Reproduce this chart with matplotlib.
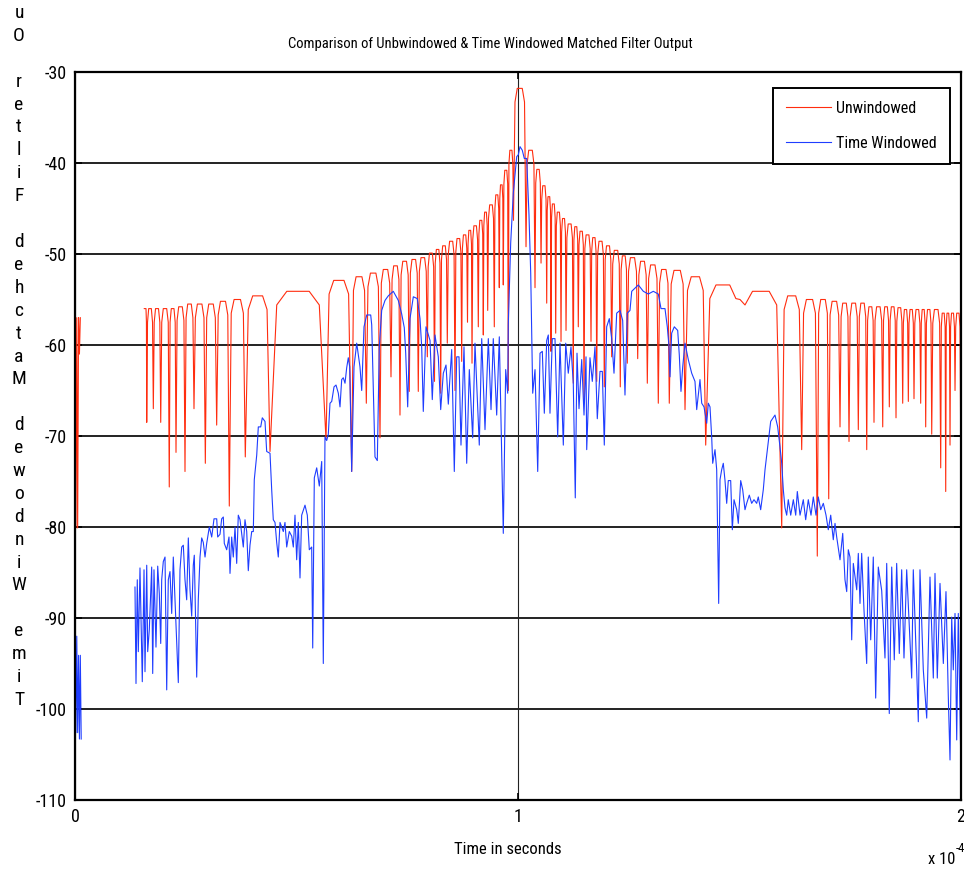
import numpy as np
import matplotlib
matplotlib.use("Agg")
import matplotlib.pyplot as plt

plt.rcParams['font.family'] = ['Roboto Condensed', 'Liberation Sans', 'DejaVu Sans']
plt.rcParams['axes.unicode_minus'] = False

# time axis is in units of 1e-4 s
T_SCALE = 1e-4

# --- Unwindowed matched filter output (dB) ---
# short burst right at t = 0
red_lead_t = [0.000, 0.002, 0.004, 0.006, 0.008, 0.010, 0.012]
red_lead_db = [-56.8, -80.1, -57.0, -80.1, -57.0, -61.0, -57.0]

red_start_t = 0.1564
red_end_t = 2.004
# nulls between sidelobes
red_dip_t = [0.1619, 0.1768, 0.1935, 0.2128, 0.2280, 0.2483, 0.2686, 0.2942, 0.3198, 0.3483,
             0.3844, 0.4402, 0.5666, 0.6246, 0.6576, 0.6885, 0.7133, 0.7336, 0.7546, 0.7749,
             0.7953, 0.8115, 0.8255, 0.8404, 0.8578, 0.8729, 0.8860, 0.8962, 0.9104, 0.9217,
             0.9316, 0.9465, 0.9578, 0.9668, 0.9781, 0.9898,
             1.0181, 1.0384, 1.0520, 1.0648, 1.0745, 1.0851, 1.0971, 1.1084, 1.1248, 1.1361,
             1.1490, 1.1648, 1.1777, 1.1948, 1.2115, 1.2309, 1.2467, 1.2702, 1.2919, 1.3167,
             1.3415, 1.3770, 1.4237, 1.5011, 1.5953, 1.6404, 1.6756, 1.7014, 1.7269, 1.7472,
             1.7682, 1.7872, 1.8036, 1.8233, 1.8382, 1.8533, 1.8684, 1.8811, 1.8939, 1.9090,
             1.9203, 1.9339, 1.9542, 1.9655, 1.9752, 1.9865, 1.9993]
red_dip_db = [-68.5, -67.0, -68.5, -75.6, -71.8, -73.9, -67.0, -73.0, -68.8, -77.7,
              -72.3, -71.7, -70.4, -73.9, -66.4, -70.2, -63.5, -67.7, -65.1, -65.1,
              -61.3, -64.0, -65.3, -59.8, -65.0, -61.8, -57.5, -62.0, -58.0, -58.9,
              -56.2, -58.0, -53.7, -53.4, -65.0, -46.3,
              -49.2, -53.7, -51.0, -55.4, -60.7, -58.7, -59.6, -58.4, -64.2, -58.0,
              -66.4, -59.6, -64.0, -64.6, -61.3, -64.6, -62.0, -61.5, -64.2, -66.4,
              -66.4, -67.1, -71.0, -55.0, -80.1, -71.5, -83.2, -76.9, -69.0, -70.6,
              -69.3, -71.5, -68.5, -69.0, -66.8, -68.0, -66.4, -66.2, -65.9, -66.4,
              -69.0, -69.8, -73.5, -76.1, -71.0, -65.0, -70.1]
# sidelobe peak levels, one per lobe (before the first null, then after each null)
red_top_db = [-56.0,
              -56.0, -56.0, -56.0, -56.0, -55.8, -55.5, -55.5, -55.5, -55.2, -55.0,
              -54.6, -54.1, -52.9, -52.5, -52.1, -51.7, -51.3, -50.8, -50.6, -50.4,
              -49.9, -49.5, -49.1, -48.6, -48.3, -47.9, -47.4, -46.9, -46.3, -45.4,
              -44.6, -43.5, -42.4, -40.8, -38.6, -31.8,
              -38.6, -40.7, -42.5, -43.7, -44.5, -45.4, -46.1, -46.7, -47.0, -47.5,
              -47.9, -48.2, -48.6, -49.1, -49.6, -50.2, -50.4, -50.8, -51.2, -51.7,
              -51.8, -52.5, -53.4, -54.1, -54.6, -55.0, -55.0, -55.2, -55.4, -55.4,
              -55.4, -55.8, -55.8, -55.8, -55.8, -55.9, -56.1, -56.1, -56.1, -56.1,
              -56.1, -56.1, -56.5, -56.5, -56.5, -56.5, -56.5]

# --- Time windowed matched filter output (dB) ---
blue_lead_t = [0.000, 0.002, 0.004, 0.006, 0.008, 0.010, 0.012, 0.014]
blue_lead_db = [-92.0, -102.6, -92.0, -102.6, -94.1, -103.3, -94.1, -103.3]

blue_t = [0.1354, 0.1377, 0.1406, 0.1429, 0.1467, 0.1519, 0.1558, 0.1580, 0.1619, 0.1641,
          0.1677, 0.1731, 0.1754, 0.1783, 0.1828, 0.1867, 0.1903, 0.1935, 0.1957, 0.1993,
          0.2032, 0.2070, 0.2106, 0.2144, 0.2183, 0.2219, 0.2280, 0.2332, 0.2370, 0.2409,
          0.2445, 0.2483, 0.2521, 0.2558, 0.2596, 0.2634, 0.2670, 0.2693, 0.2747, 0.2783,
          0.2822, 0.2860, 0.2896, 0.2935, 0.2973, 0.3032, 0.3086, 0.3138, 0.3199, 0.3221,
          0.3273, 0.3311, 0.3348, 0.3370, 0.3424, 0.3476, 0.3499, 0.3537, 0.3573, 0.3612,
          0.3650, 0.3686, 0.3725, 0.3763, 0.3799, 0.3837, 0.3876, 0.3912, 0.3950, 0.3989,
          0.4025, 0.4047, 0.4102, 0.4138, 0.4192, 0.4228, 0.4289, 0.4327, 0.4402, 0.4440,
          0.4476, 0.4515, 0.4553, 0.4589, 0.4628, 0.4702, 0.4740, 0.4779, 0.4837, 0.4892,
          0.4928, 0.4966, 0.5004, 0.5041, 0.5079, 0.5117, 0.5192, 0.5244, 0.5289, 0.5343,
          0.5366, 0.5402, 0.5456, 0.5515, 0.5569, 0.5605, 0.5643, 0.5682, 0.5718, 0.5756,
          0.5795, 0.5847, 0.5892, 0.5944, 0.5982, 0.6020, 0.6056, 0.6095, 0.6133, 0.6169,
          0.6201, 0.6246, 0.6298, 0.6359, 0.6433, 0.6472, 0.6524, 0.6585, 0.6675, 0.6698,
          0.6772, 0.6824, 0.6869, 0.6923, 0.6998, 0.7072, 0.7185, 0.7298, 0.7375, 0.7433,
          0.7465, 0.7510, 0.7562, 0.7637, 0.7727, 0.7788, 0.7826, 0.7862, 0.7923, 0.8014,
          0.8065, 0.8126, 0.8201, 0.8255, 0.8314, 0.8375, 0.8427, 0.8503, 0.8562, 0.8616,
          0.8668, 0.8713, 0.8781, 0.8842, 0.8901, 0.8977, 0.9029, 0.9126, 0.9181, 0.9255,
          0.9330, 0.9391, 0.9442, 0.9519, 0.9578, 0.9668, 0.9722, 0.9767, 0.9781, 0.9835,
          0.9894, 0.9971, 1.0007, 1.0045, 1.0097, 1.0142, 1.0196, 1.0219, 1.0248, 1.0287,
          1.0332, 1.0384, 1.0445, 1.0497, 1.0549, 1.0594, 1.0648, 1.0684, 1.0722, 1.0774,
          1.0835, 1.0896, 1.0948, 1.1023, 1.1077, 1.1135, 1.1196, 1.1248, 1.1293, 1.1332,
          1.1377, 1.1438, 1.1490, 1.1535, 1.1551, 1.1625, 1.1677, 1.1738, 1.1790, 1.1851,
          1.1903, 1.1948, 1.2002, 1.2061, 1.2115, 1.2167, 1.2228, 1.2302, 1.2363, 1.2415,
          1.2467, 1.2528, 1.2567, 1.2716, 1.2829, 1.2941, 1.3054, 1.3167, 1.3228, 1.3318,
          1.3370, 1.3409, 1.3431, 1.3469, 1.3528, 1.3605, 1.3641, 1.3679, 1.3718, 1.3770,
          1.3808, 1.3844, 1.3921, 1.3995, 1.4034, 1.4108, 1.4147, 1.4199, 1.4260, 1.4296,
          1.4334, 1.4372, 1.4395, 1.4447, 1.4485, 1.4530, 1.4560, 1.4598, 1.4634, 1.4673,
          1.4711, 1.4747, 1.4801, 1.4838, 1.4876, 1.4937, 1.4973, 1.5027, 1.5072, 1.5124,
          1.5162, 1.5221, 1.5275, 1.5327, 1.5388, 1.5424, 1.5478, 1.5537, 1.5576, 1.5650,
          1.5704, 1.5801, 1.5862, 1.5914, 1.5953, 1.5989, 1.6027, 1.6065, 1.6101, 1.6156,
          1.6215, 1.6269, 1.6305, 1.6366, 1.6440, 1.6494, 1.6553, 1.6614, 1.6666, 1.6727,
          1.6779, 1.6833, 1.6892, 1.6953, 1.7004, 1.7059, 1.7117, 1.7156, 1.7194, 1.7269,
          1.7330, 1.7381, 1.7420, 1.7456, 1.7494, 1.7533, 1.7569, 1.7646, 1.7682, 1.7720,
          1.7758, 1.7810, 1.7871, 1.7907, 1.7962, 1.8020, 1.8074, 1.8133, 1.8210, 1.8284,
          1.8323, 1.8381, 1.8436, 1.8494, 1.8548, 1.8607, 1.8661, 1.8713, 1.8774, 1.8887,
          1.8923, 1.9000, 1.9036, 1.9074, 1.9149, 1.9226, 1.9300, 1.9375, 1.9413, 1.9465,
          1.9526, 1.9601, 1.9661, 1.9713, 1.9752, 1.9790, 1.9826, 1.9865, 1.9903, 1.9939,
          1.9993, 2.0023]
blue_db = [-86.6, -97.2, -85.8, -93.7, -84.5, -97.0, -84.7, -95.9, -84.2, -93.7,
           -91.3, -84.4, -96.1, -84.7, -93.2, -84.3, -87.3, -92.8, -85.8, -83.8,
           -83.3, -97.9, -85.8, -84.9, -89.5, -83.3, -90.6, -97.1, -84.7, -82.2,
           -82.0, -85.8, -88.0, -81.2, -86.9, -89.8, -84.2, -83.1, -96.5, -88.0,
           -83.3, -81.2, -81.7, -83.3, -81.8, -80.0, -81.1, -79.1, -79.1, -81.1,
           -80.8, -79.1, -78.9, -81.8, -82.5, -81.1, -85.1, -81.1, -83.3, -80.0,
           -84.0, -78.7, -79.2, -80.7, -82.2, -79.2, -80.5, -84.8, -82.0, -80.5,
           -80.5, -74.8, -72.1, -69.0, -69.0, -68.0, -68.4, -71.7, -71.9, -75.9,
           -79.2, -79.5, -81.7, -83.3, -79.5, -80.5, -79.5, -82.2, -80.5, -81.0,
           -82.2, -78.7, -83.6, -79.5, -85.6, -78.7, -77.6, -78.7, -82.5, -82.2,
           -93.3, -74.6, -73.5, -75.5, -72.8, -95.0, -70.1, -70.5, -69.8, -66.4,
           -66.2, -64.6, -64.4, -65.3, -66.8, -63.8, -63.6, -64.2, -62.5, -61.4,
           -62.4, -73.9, -62.4, -59.8, -62.4, -65.0, -58.0, -56.7, -56.7, -57.8,
           -72.3, -72.7, -60.2, -56.2, -55.1, -54.6, -54.1, -55.1, -56.6, -58.1,
           -60.9, -66.8, -57.1, -54.7, -54.9, -57.1, -60.2, -67.3, -58.0, -59.5,
           -66.0, -58.9, -61.3, -67.1, -63.1, -62.2, -66.5, -60.5, -73.9, -61.3,
           -61.3, -71.0, -60.2, -73.0, -62.7, -70.2, -59.8, -71.0, -59.3, -69.3,
           -59.3, -67.1, -59.3, -67.7, -59.1, -80.7, -62.7, -65.3, -57.7, -48.8,
           -43.3, -39.3, -39.1, -38.2, -38.6, -39.5, -39.5, -42.2, -45.7, -52.1,
           -65.3, -62.7, -73.9, -60.9, -60.7, -67.5, -59.5, -58.9, -67.5, -59.3,
           -59.3, -70.1, -59.8, -71.0, -59.8, -63.1, -60.2, -64.2, -76.8, -60.9,
           -67.0, -61.6, -67.7, -61.3, -71.5, -61.4, -64.0, -60.2, -68.1, -62.9,
           -62.9, -71.0, -58.0, -57.1, -59.3, -63.1, -56.5, -56.2, -57.3, -65.5,
           -56.5, -56.2, -54.1, -53.4, -54.1, -54.4, -54.1, -54.4, -56.0, -56.0,
           -58.0, -60.2, -63.5, -58.7, -58.0, -58.4, -61.1, -65.1, -62.4, -59.8,
           -60.7, -61.6, -63.1, -64.0, -67.1, -63.8, -66.4, -66.8, -68.6, -66.4,
           -66.8, -70.1, -73.0, -71.5, -73.7, -88.4, -74.8, -73.7, -73.0, -74.9,
           -77.4, -74.9, -74.9, -80.3, -77.0, -78.1, -79.6, -74.9, -75.9, -78.1,
           -77.4, -76.5, -77.4, -77.0, -77.4, -76.7, -78.1, -75.9, -73.7, -70.6,
           -68.4, -67.7, -69.0, -71.2, -73.0, -75.9, -77.9, -78.7, -77.0, -78.7,
           -77.0, -78.7, -76.1, -78.7, -77.0, -79.2, -77.0, -78.7, -76.7, -78.7,
           -76.7, -78.1, -77.4, -78.7, -80.3, -78.7, -81.4, -79.6, -81.1, -83.6,
           -80.7, -85.8, -87.1, -82.5, -83.3, -92.4, -84.0, -86.9, -82.9, -88.4,
           -82.9, -89.1, -95.0, -83.3, -92.4, -83.3, -98.8, -84.4, -87.0, -94.4,
           -84.0, -100.5, -84.4, -94.6, -84.0, -93.9, -84.7, -94.4, -84.7, -96.6,
           -84.7, -95.7, -101.4, -84.7, -95.7, -101.0, -85.5, -96.6, -85.1, -96.6,
           -86.2, -95.0, -87.1, -98.6, -105.6, -89.9, -95.7, -89.5, -103.4, -89.5,
           -104.9, -92.0]


def lobe_trace(t0, t1, dip_t, dip_db, top_db):
    """Polyline of rounded sidelobes separated by sharp nulls."""
    edges = [t0] + list(dip_t) + [t1]
    xs, ys = [], []
    last = len(top_db) - 1
    for k, top in enumerate(top_db):
        a, b = edges[k], edges[k + 1]
        w = b - a
        if k == 0:
            xs += [a]
            ys += [top]
        else:
            xs += [a + 0.12 * w]
            ys += [top - 1.5]
        xs += [a + 0.3 * w, b - 0.3 * w]
        ys += [top, top]
        if k == last:
            xs += [b]
            ys += [top]
        else:
            xs += [b - 0.12 * w, b]
            ys += [top - 1.5, dip_db[k]]
    return xs, ys


red_x, red_y = lobe_trace(red_start_t, red_end_t, red_dip_t, red_dip_db, red_top_db)
red_x = red_lead_t + [np.nan] + red_x
red_y = red_lead_db + [np.nan] + red_y
blue_x = blue_lead_t + [np.nan] + blue_t
blue_y = blue_lead_db + [np.nan] + blue_db

RED = '#ff2d0f'
BLUE = '#1f3dff'

W, H = 964, 873
fig = plt.figure(figsize=(W / 100, H / 100), dpi=100)
ax = fig.add_axes([75 / W, 73 / H, 886 / W, 728 / H])

ax.plot(np.array(red_x) * T_SCALE, red_y, color=RED, lw=0.8, label='Unwindowed')
ax.plot(np.array(blue_x) * T_SCALE, blue_y, color=BLUE, lw=0.8, label='Time Windowed')

ax.set_xlim(0, 2 * T_SCALE)
ax.set_ylim(-110, -30)
ax.set_xticks([0, 1 * T_SCALE, 2 * T_SCALE])
ax.set_xticklabels(['0', '1', '2'])
ax.set_yticks(np.arange(-110, -29, 10))

ax.yaxis.grid(True, color='#222222', lw=1.4)
ax.xaxis.grid(True, color='#222222', lw=0.8)
ax.set_axisbelow(True)

for sp in ax.spines.values():
    sp.set_linewidth(1.6)
    sp.set_color('black')

ax.tick_params(direction='in', length=5, width=1.2, labelsize=13, pad=6,
               top=True, right=True)

ax.set_title('Comparison of Unbwindowed & Time Windowed Matched Filter Output',
             fontsize=10.5, pad=17, x=(490 - 75) / 886)
ax.set_xlabel('Time in seconds', fontsize=12)
ax.xaxis.set_label_coords((508 - 75) / 886, -0.058)

# axis multiplier in the lower right corner
fig.text(955 / W, 1 - 860 / H, 'x 10', fontsize=12, ha='right', va='center')
fig.text(956 / W, 1 - 849 / H, '-4', fontsize=9, ha='left', va='center')

# stacked y label, letters upright, reading bottom to top
ylab = 'Time Windowed Matched Filter Output'
for i, ch in enumerate(ylab):
    y_px = 700 - i * 22.9
    if ch == ' ' or y_px < 8:
        continue
    fig.text(19 / W, 1 - y_px / H, ch, fontsize=14, ha='center', va='center')

leg = ax.legend(loc='upper right', bbox_to_anchor=((950 - 75) / 886, (800 - 88) / 728),
                borderaxespad=0, fancybox=False, framealpha=1, edgecolor='black',
                fontsize=11.5, handlelength=2.8, handletextpad=0.35, borderpad=0.8,
                labelspacing=1.25)
leg.get_frame().set_linewidth(1.4)

fig.savefig('out.png', dpi=100)
